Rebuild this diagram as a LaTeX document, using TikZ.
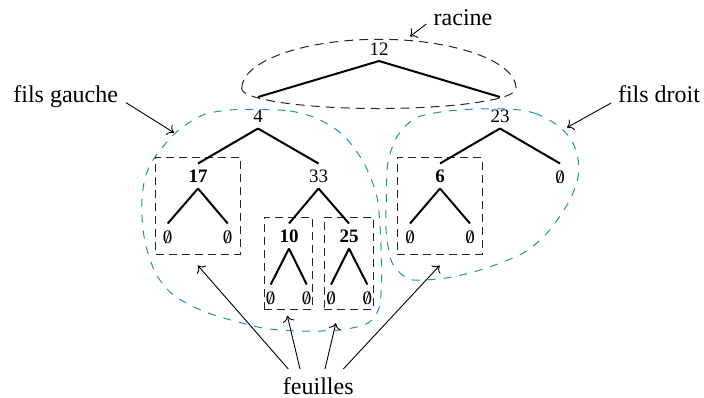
\documentclass[tikz,border=0pt]{standalone}
\usepackage{fontspec}
\setmainfont{Liberation Serif}
\usetikzlibrary{calc,arrows.meta}
\definecolor{blobc}{RGB}{30,150,155}
\newcommand{\nilset}{\ooalign{0\cr\hidewidth/\hidewidth\cr}}
\begin{document}
\begin{tikzpicture}[x=0.5pt,y=-0.5pt,
  tn/.style={inner sep=0pt, font=\fontsize{9.5}{11}\selectfont},
  bn/.style={inner sep=0pt, font=\fontsize{9.5}{11}\selectfont\bfseries},
  lbl/.style={inner sep=0pt, anchor=base, font=\fontsize{12}{14}\selectfont},
  edge/.style={line width=1pt},
  arr/.style={line width=0.45pt, -{To[length=3pt,width=6pt]}},
  boxd/.style={draw=black!85, dash pattern=on 4pt off 2.5pt, line width=0.5pt, inner sep=0pt},
  blob/.style={draw=blobc, dash pattern=on 4pt off 4pt, line width=0.5pt},
  ell/.style={draw=black!85, dash pattern=on 4.5pt off 3pt, line width=0.5pt}]
\useasboundingbox (0,0) rectangle (704,397);

% cyan blobs
\draw[blob] plot[smooth cycle] coordinates {(258,109.5) (290,111) (317,118.5) (343,135) (363,161.5) (376.5,195) (380.5,235) (381.5,280) (379,308) (368,323) (340,330) (300,331) (263,328) (217,316) (190,305) (170,292) (155,272) (145,242) (141.7,208) (145,178) (155,157) (176.7,131.7) (203,115) (230,110)};
\draw[blob] plot[smooth cycle] coordinates {(508,109) (535,113.3) (557,125) (572,141) (578.5,162) (577,182) (567,205) (548,232) (525,252) (495,265) (468,273.5) (442,278.5) (413,280) (400,273) (391,260) (386,230) (386.5,195) (388,162) (398,135) (418,117) (458,110)};

% root ellipse
\draw[ell] (241.7,88.5) arc[start angle=180,end angle=360,x radius=137.2,y radius=49.2]
  arc[start angle=0,end angle=180,x radius=137.2,y radius=20];

% leaf boxes
\node[boxd, minimum width=42.15pt, minimum height=48.5pt] (b17) at (197.85,205.5) {};
\node[boxd, minimum width=24pt, minimum height=46pt] (b10) at (288.3,263.3) {};
\node[boxd, minimum width=24.5pt, minimum height=46pt] (b25) at (348.8,263.3) {};
\node[boxd, minimum width=42.35pt, minimum height=48.35pt] (b6) at (439.65,205.65) {};

% tree nodes
\node[tn] (n12) at (379,49) {12};
\node[tn] (n4) at (258,116.5) {4};
\node[tn] (n23) at (500,116.5) {23};
\node[bn] (n17) at (198,176.5) {17};
\node[tn] (n33) at (318.5,176.5) {33};
\node[bn] (n6) at (440,176.5) {6};
\node[tn] (e23) at (560,177) {\nilset};
\node[tn] (e17a) at (167.7,237) {\nilset};
\node[tn] (e17b) at (227.7,237) {\nilset};
\node[bn] (n10) at (289,236.5) {10};
\node[bn] (n25) at (349,236.5) {25};
\node[tn] (e6a) at (410,237) {\nilset};
\node[tn] (e6b) at (470,237) {\nilset};
\node[tn] (e10a) at (270.7,298) {\nilset};
\node[tn] (e10b) at (306.7,298) {\nilset};
\node[tn] (e25a) at (331,298) {\nilset};
\node[tn] (e25b) at (367.3,298) {\nilset};

% tree edges
\foreach \p/\c in {n12/n4, n12/n23}
  \draw[edge] ($(\p)+(0,12)$) -- ($(\c)+(0,-19.5)$);
\foreach \p/\c in {n4/n17, n4/n33, n23/n6, n33/n10, n33/n25}
  \draw[edge] ($(\p)+(0,12)$) -- ($(\c)+(0,-13)$);
\foreach \p/\c in {n23/e23, n17/e17a, n17/e17b, n6/e6a, n6/e6b, n10/e10a, n10/e10b, n25/e25a, n25/e25b}
  \draw[edge] ($(\p)+(0,12)$) -- ($(\c)+(0,-13.5)$);

% labels
\node[lbl] (rac) at (463,25) {racine};
\node[lbl] (fg) at (65.7,102.7) {fils gauche};
\node[lbl] (fd) at (659,102) {fils droit};
\node[lbl] (fe) at (318.3,394) {feuilles};

\coordinate (racTip) at (410,36.5);
\coordinate (fgTip) at (174,132.7);
\coordinate (fdTip) at (567,127.5);

\draw[arr] ($(rac.base west)+(-7,-1)$) -- (racTip);
\draw[arr] ($(fg.base east)+(7.7,0)$) -- (fgTip);
\draw[arr] ($(fd.base west)+(-6.5,1)$) -- (fdTip);

\draw[arr] ($(fe.base)+(-30,-25)$) -- ($(b17.south)+(0,11)$);
\draw[arr] ($(fe.base)+(-18.3,-25)$) -- ($(b10.south)+(-1,6)$);
\draw[arr] ($(fe.base)+(6.7,-25)$) -- ($(b25.south)+(-13,13.4)$);
\draw[arr] ($(fe.base)+(25,-25)$) -- ($(b6.south)+(0,11)$);
\end{tikzpicture}
\end{document}
